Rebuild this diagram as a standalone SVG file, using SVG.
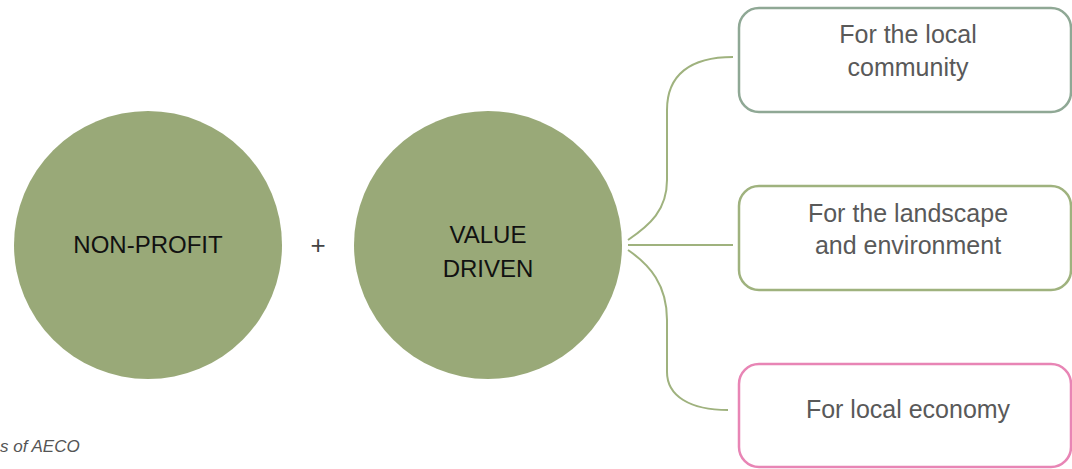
<svg xmlns="http://www.w3.org/2000/svg" width="1072" height="469" viewBox="0 0 1072 469">
<style>
.circ{fill:#99a978}
.ctext{font-family:"Liberation Sans",Arial,sans-serif;font-size:24px;fill:#111;text-anchor:middle}
.box{fill:#fff;stroke-width:2.5}
.btext{font-family:"Liberation Sans",Arial,sans-serif;font-size:25px;fill:#595959;text-anchor:middle}
.conn{fill:none;stroke:#9fb27e;stroke-width:2}
</style>
<rect width="1072" height="469" fill="#fff"/>
<g id="non-profit">
<circle class="circ" cx="148" cy="245" r="134"/>
<text class="ctext" x="148" y="253">NON-PROFIT</text>
</g>
<g id="plus">
<text x="318" y="254" font-family="Liberation Sans, Arial, sans-serif" font-size="26" fill="#444" text-anchor="middle">+</text>
</g>
<g id="value-driven">
<circle class="circ" cx="488" cy="245" r="134"/>
<text class="ctext" x="488" y="243">VALUE</text>
<text class="ctext" x="488" y="277">DRIVEN</text>
</g>
<g id="connectors">
<path class="conn" d="M628,240 C650,225 667,210 667,180 L667,110 C667,75 690,57 733,57"/>
<path class="conn" d="M628,245 L733,245"/>
<path class="conn" d="M628,250 C650,265 667,285 667,320 L667,372 C667,396 690,410 728,410"/>
</g>
<g id="community">
<rect class="box" x="739" y="8" width="332" height="104" rx="20" stroke="#8fa895"/>
<text class="btext" x="908" y="43">For the local</text>
<text class="btext" x="908" y="76">community</text>
</g>
<g id="landscape">
<rect class="box" x="739" y="186" width="332" height="104" rx="20" stroke="#9fb27e"/>
<text class="btext" x="908" y="222">For the landscape</text>
<text class="btext" x="908" y="254">and environment</text>
</g>
<g id="economy">
<rect class="box" x="739" y="364" width="332" height="103" rx="20" stroke="#e885b5"/>
<text class="btext" x="908" y="418">For local economy</text>
</g>
<text x="0" y="452" font-family="Liberation Sans, Arial, sans-serif" font-size="17" font-style="italic" fill="#555">s of AECO</text>
</svg>
